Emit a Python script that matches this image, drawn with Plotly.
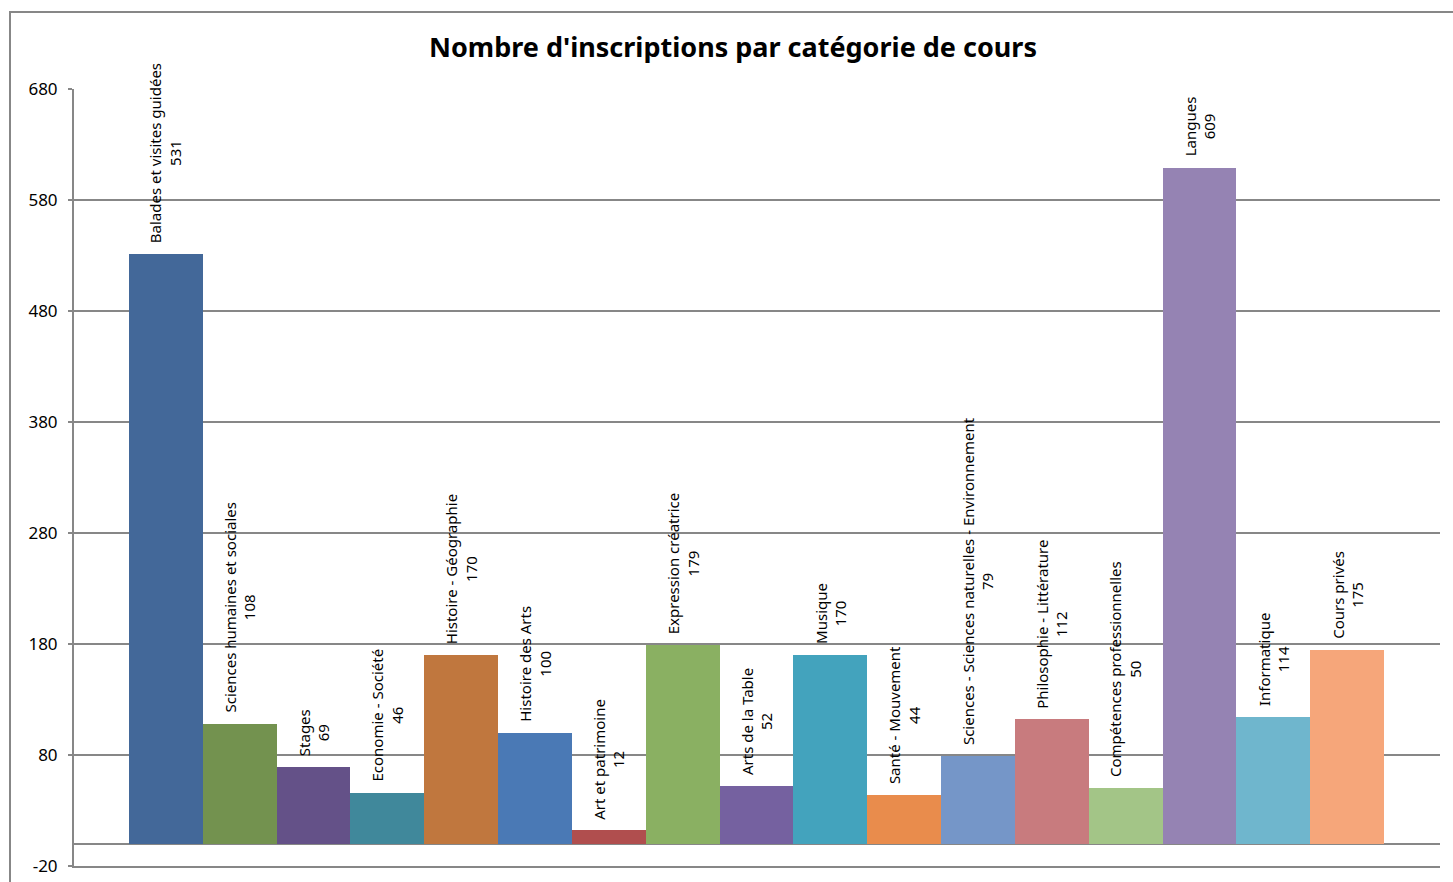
import plotly.graph_objects as go

categories = [
    "Balades et visites guidées",
    "Sciences humaines et sociales",
    "Stages",
    "Economie - Société",
    "Histoire - Géographie",
    "Histoire des Arts",
    "Art et patrimoine",
    "Expression créatrice",
    "Arts de la Table",
    "Musique",
    "Santé - Mouvement",
    "Sciences - Sciences naturelles - Environnement",
    "Philosophie - Littérature",
    "Compétences professionnelles",
    "Langues",
    "Informatique",
    "Cours privés",
]
values = [531, 108, 69, 46, 170, 100, 12, 179, 52, 170, 44, 79, 112, 50, 609, 114, 175]
colors = [
    "#436899", "#73924f", "#645188", "#40889b", "#c0773e", "#4a79b5",
    "#b04e4e", "#8ab062", "#7561a0", "#43a3bd", "#e98c4c", "#7596c8",
    "#c87b7e", "#a3c587", "#9583b3", "#6fb6cd", "#f6a67a",
]
tick_values = [-20, 80, 180, 280, 380, 480, 580, 680]
title_text = "Nombre d'inscriptions par catégorie de cours"

GRID = "#878787"
FONT = "Noto Sans"

xpos = list(range(len(categories)))

fig = go.Figure()
fig.add_trace(go.Bar(
    x=xpos, y=values, marker=dict(color=colors, line=dict(width=0)),
    width=1.0, hoverinfo="skip", showlegend=False,
))

for i, (c, v) in enumerate(zip(categories, values)):
    fig.add_annotation(
        x=i, y=v, text=f"{c}<br>{v}", textangle=-90, showarrow=False,
        xanchor="center", yanchor="bottom", yshift=9, align="center",
        font=dict(family=FONT, size=15, color="#000000"),
    )

W, H = 1453, 882
L, R, T, B = 74, 13, 89, 16
pw, ph = W - L - R, H - T - B

fig.add_shape(
    type="rect", xref="paper", yref="paper",
    x0=(10 - L) / pw, x1=1.05, y0=-0.2, y1=(H - B - 12) / ph,
    line=dict(color=GRID, width=2), fillcolor="rgba(0,0,0,0)", layer="below",
)

fig.update_layout(
    width=W, height=H,
    margin=dict(l=L, r=R, t=T, b=B, pad=0, autoexpand=False),
    paper_bgcolor="white", plot_bgcolor="white",
    bargap=0,
    title=dict(text=f"<b>{title_text}</b>", x=733 / W, xanchor="center",
               y=1 - 48 / H, yanchor="middle", yref="container",
               font=dict(family=FONT, size=27, color="#000000")),
    font=dict(family=FONT, color="#000000"),
    xaxis=dict(range=[-1.243, 17.257], showticklabels=False, showgrid=False,
               zeroline=False, showline=True, linecolor=GRID, linewidth=2,
               ticks="", automargin=False),
    yaxis=dict(range=[-20, 680], tickvals=tick_values,
               ticktext=[str(t) for t in tick_values],
               showgrid=True, gridcolor=GRID, gridwidth=2,
               zeroline=True, zerolinecolor=GRID, zerolinewidth=2,
               showline=True, linecolor=GRID, linewidth=2,
               ticks="outside", ticklen=4, tickcolor=GRID, tickwidth=2,
               ticklabelstandoff=7, automargin=False,
               tickfont=dict(family=FONT, size=17, color="#000000")),
)

fig.write_html(
    "out.html",
    config={"displayModeBar": False},
    post_script="document.body.style.margin='0';document.body.style.overflow='hidden';",
)
